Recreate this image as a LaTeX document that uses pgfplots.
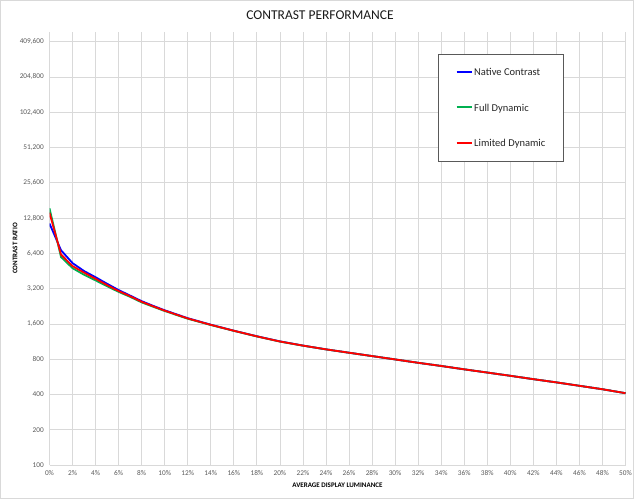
\documentclass[border=0pt]{standalone}
\usepackage{fontspec}
\setmainfont{Carlito}
\usepackage{pgfplots}
\pgfplotsset{compat=1.18}
\usepackage{pgfplotstable}
\definecolor{cblue}{HTML}{0000FF}
\definecolor{cgreen}{HTML}{00B050}
\definecolor{cred}{HTML}{FF0000}
\definecolor{gridc}{HTML}{D9D9D9}
\definecolor{tickc}{HTML}{595959}

\pgfplotstableread{
x native full limited
0 11500 15500 14200
1 6800 5950 6250
2 5280 4780 4980
3 4520 4200 4380
4 4000 3760 3880
5 3520 3350 3430
6 3110 3000 3050
7 2790 2720 2755
8 2500 2440 2470
9 2280 2240 2260
10 2090 2060 2075
12 1790 1770 1780
14 1575 1565 1570
16 1400 1395 1398
18 1255 1250 1252
20 1135 1130 1132
22 1045 1043 1044
24 970 969 970
26 908 907 908
28 850 850 850
30 796 796 796
32 745 745 745
34 700 700 700
36 655 655 655
38 615 615 615
40 577 577 577
42 540 540 540
44 507 507 507
46 474 474 474
48 443 443 443
50 410 410 410
}\datatable

\begin{document}
\begin{tikzpicture}
\path[use as bounding box] (0pt,0pt) rectangle (640pt,499pt);
\draw[gridc] (0.5pt,0.5pt) rectangle (633pt,498.5pt);
\node[font=\fontsize{13.5}{15}\selectfont, text=black!90] at (320pt,483.5pt) {CONTRAST PERFORMANCE};
\begin{axis}[
  at={(49.5pt,34pt)}, anchor=south west,
  scale only axis, width=576pt, height=433pt,
  xmin=0, xmax=50, ymin=100, ymax=495000,
  ymode=log, log basis y=2,
  xtick={0,2,...,50},
  xticklabel={\pgfmathprintnumber{\tick}\%},
  ytick={100,200,400,800,1600,3200,6400,12800,25600,51200,102400,204800,409600},
  yticklabels={100,200,400,800,{1,600},{3,200},{6,400},{12,800},{25,600},{51,200},{102,400},{204,800},{409,600}},
  /pgf/number format/assume math mode=true,
  major tick length=0pt,
  grid=major, grid style={gridc, line width=0.75pt},
  axis line style={gridc, line width=0.75pt},
  axis lines*=left,
  ticklabel style={font=\fontsize{7.3}{8}\selectfont, text=tickc},
  xticklabel style={inner sep=0pt, anchor=north, yshift=-5.5pt},
  yticklabel style={inner sep=0pt, anchor=east, xshift=-5.5pt},
  xlabel={AVERAGE DISPLAY LUMINANCE},
  ylabel={CONTRAST RATIO},
  label style={font=\bfseries\fontsize{7}{8}\selectfont, text=black},
  xlabel style={at={(axis description cs:0.5,-0.0462)}, anchor=center},
  ylabel style={at={(axis description cs:-0.0599,0.5)}, anchor=center},
  legend style={at={(0.675,0.9485)}, anchor=north west, draw=black!65, line width=0.8pt,
    fill=white, font=\fontsize{10.5}{11}\selectfont, text=black!85,
    inner xsep=17pt, inner ysep=11.7pt, row sep=23.5pt,
    nodes={inner sep=1.5pt, text height=8pt, text depth=1pt}},
  legend cell align=left,
  legend image code/.code={\draw[#1, line width=2pt] (0pt,0.6pt) -- (15pt,0.6pt);},
]
\addplot[color=cblue, line width=1.8pt] table[x=x, y=native] {\datatable};
\addlegendentry{Native Contrast}
\addplot[color=cgreen, line width=1.8pt] table[x=x, y=full] {\datatable};
\addlegendentry{Full Dynamic}
\addplot[color=cred, line width=1.8pt] table[x=x, y=limited] {\datatable};
\addlegendentry{Limited Dynamic}
\end{axis}
\end{tikzpicture}
\end{document}
